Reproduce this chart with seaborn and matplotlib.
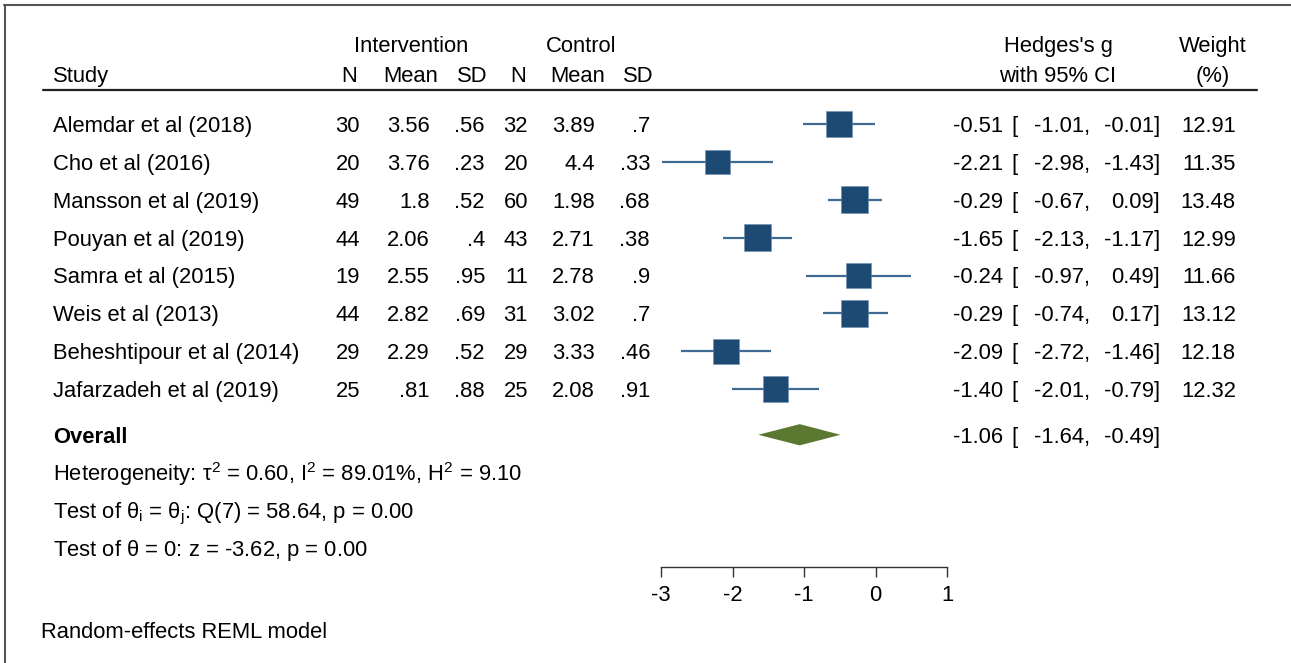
import numpy as np
import pandas as pd
import matplotlib
matplotlib.use("Agg")
import matplotlib.pyplot as plt
import matplotlib.transforms as mtransforms
from matplotlib.lines import Line2D
import seaborn as sns

# ---------------- data ----------------
studies = ["Alemdar et al (2018)", "Cho et al (2016)", "Mansson et al (2019)",
           "Pouyan et al (2019)", "Samra et al (2015)", "Weis et al (2013)",
           "Beheshtipour et al (2014)", "Jafarzadeh et al (2019)"]
int_n = ["30", "20", "49", "44", "19", "44", "29", "25"]
int_mean = ["3.56", "3.76", "1.8", "2.06", "2.55", "2.82", "2.29", ".81"]
int_sd = [".56", ".23", ".52", ".4", ".95", ".69", ".52", ".88"]
ctl_n = ["32", "20", "60", "43", "11", "31", "29", "25"]
ctl_mean = ["3.89", "4.4", "1.98", "2.71", "2.78", "3.02", "3.33", "2.08"]
ctl_sd = [".7", ".33", ".68", ".38", ".9", ".7", ".46", ".91"]
g = [-0.51, -2.21, -0.29, -1.65, -0.24, -0.29, -2.09, -1.40]
ci_lo = [-1.01, -2.98, -0.67, -2.13, -0.97, -0.74, -2.72, -2.01]
ci_hi = [-0.01, -1.43, 0.09, -1.17, 0.49, 0.17, -1.46, -0.79]
weight = [12.91, 11.35, 13.48, 12.99, 11.66, 13.12, 12.18, 12.32]
overall_g, overall_lo, overall_hi = -1.06, -1.64, -0.49
x_ticks = [-3, -2, -1, 0, 1]
stats_lines = [
    r"Heterogeneity: $\mathrm{\tau}^{2}$ = 0.60, $\mathrm{I}^{2}$ = 89.01%, $\mathrm{H}^{2}$ = 9.10",
    r"Test of $\mathrm{\theta}_{i}$ = $\mathrm{\theta}_{j}$: Q(7) = 58.64, p = 0.00",
    r"Test of $\mathrm{\theta}$ = 0: z = -3.62, p = 0.00",
]

df = pd.DataFrame({"study": studies, "g": g, "lo": ci_lo, "hi": ci_hi,
                   "weight": weight})
df["row"] = np.arange(len(df))
overall_row = len(df) + 0.2

# ---------------- style ----------------
sns.set_theme(style="white")
plt.rcParams["font.family"] = ["Liberation Sans", "DejaVu Sans"]
plt.rcParams["mathtext.fontset"] = "custom"
plt.rcParams["mathtext.rm"] = "Liberation Sans"
plt.rcParams["mathtext.it"] = "Liberation Sans"
plt.rcParams["mathtext.bf"] = "Liberation Sans:bold"
plt.rcParams["mathtext.sf"] = "Liberation Sans"

W, H = 1291, 663
FS = 15.8
fig = plt.figure(figsize=(W / 100, H / 100), dpi=100)
fig.patch.set_facecolor("white")
px = mtransforms.Affine2D().scale(1 / W, -1 / H).translate(0, 1) + fig.transFigure

# forest axes: -3 at px 661, 1 at px 947; axis line at y=567
row0, step = 124.0, 37.9
ax_top, ax_bot = 100, 567
ax = fig.add_axes([661 / W, 1 - ax_bot / H, (947 - 661) / W, (ax_bot - ax_top) / H])
ax.set_facecolor("none")
ax.set_xlim(-3, 1)
ax.set_ylim((ax_bot - row0) / step, (ax_top - row0) / step)

line_col = "#3f6b92"
box_col = "#1c4a73"
diam_col = "#5a7830"

ax.hlines(df["row"], df["lo"], df["hi"], color=line_col, lw=1.6, zorder=2,
          clip_on=False)
k = 28.0
sns.scatterplot(data=df, x="g", y="row", size="weight",
                sizes=(k * min(weight), k * max(weight)),
                size_norm=(min(weight), max(weight)),
                marker="s", color=box_col, edgecolor="#6d8fb0", linewidth=0.4,
                legend=False, ax=ax, zorder=3, clip_on=False)
dh = 0.28
ax.fill([overall_lo, overall_g, overall_hi, overall_g],
        [overall_row, overall_row - dh, overall_row, overall_row + dh],
        color=diam_col, lw=0, zorder=3, clip_on=False)

ax.set_xticks(x_ticks)
ax.set_xticklabels([str(t) for t in x_ticks])
ax.set_yticks([])
ax.set_xlabel("")
ax.set_ylabel("")
for s in ["top", "left", "right"]:
    ax.spines[s].set_visible(False)
ax.spines["bottom"].set_color("#333333")
ax.spines["bottom"].set_linewidth(1.0)
ax.tick_params(axis="x", which="both", bottom=True, length=7, width=1.0,
               color="#333333", labelsize=FS, pad=6, labelcolor="black")

# ---------------- text ----------------
rowt = mtransforms.blended_transform_factory(px, ax.transData)
# baseline sits about half a cap height below the row centre
down = mtransforms.ScaledTranslation(0, -7.9 / 100, fig.dpi_scale_trans)

def T(x, y, s, ha="left", tr=rowt, **kw):
    fig.text(x, y, s, ha=ha, va="baseline", fontsize=FS, color="black",
             transform=tr + down, **kw)

# headers
T(411, 44, "Intervention", ha="center", tr=px)
T(581, 44, "Control", ha="center", tr=px)
T(1058, 44, "Hedges's g", ha="center", tr=px)
T(1213, 44, "Weight", ha="center", tr=px)
T(53, 74, "Study", tr=px)
for x, s in zip([357, 438, 487, 526, 605, 653],
                ["N", "Mean", "SD", "N", "Mean", "SD"]):
    T(x, 74, s, ha="right", tr=px)
T(1058, 74, "with 95% CI", ha="center", tr=px)
T(1213, 74, "(%)", ha="center", tr=px)

fig.add_artist(Line2D([43, 1257], [90, 90], transform=px, color="#222222", lw=1.6))

# rows
for i in range(len(df)):
    T(53, i, studies[i])
    for x, s in zip([360, 430, 485, 528, 595, 650],
                    [int_n[i], int_mean[i], int_sd[i], ctl_n[i], ctl_mean[i], ctl_sd[i]]):
        T(x, i, s, ha="right")
    T(1003, i, f"{g[i]:.2f}", ha="right")
    T(1011, i, "[")
    T(1090, i, f"{ci_lo[i]:.2f},", ha="right")
    T(1160, i, f"{ci_hi[i]:.2f}]", ha="right")
    T(1236, i, f"{weight[i]:.2f}", ha="right")

T(53, overall_row, "Overall", fontweight="bold")
T(1003, overall_row, f"{overall_g:.2f}", ha="right")
T(1011, overall_row, "[")
T(1090, overall_row, f"{overall_lo:.2f},", ha="right")
T(1160, overall_row, f"{overall_hi:.2f}]", ha="right")

for j, s in enumerate(stats_lines):
    T(53, overall_row + 1 + j, s)

T(41, 630, "Random-effects REML model", tr=px)

# frame (top and left)
fig.add_artist(Line2D([4, W], [5, 5], transform=px, color="#555555", lw=1.5))
fig.add_artist(Line2D([4.5, 4.5], [5, H], transform=px, color="#555555", lw=1.5))

fig.savefig("out.png", dpi=100, facecolor="white")
